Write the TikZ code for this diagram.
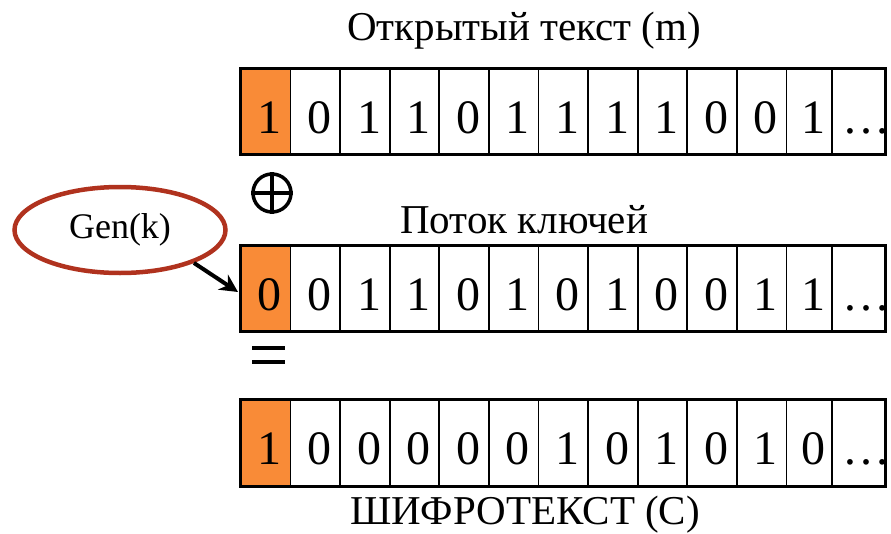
\documentclass[tikz,border=0pt]{standalone}
\usepackage{fontspec}
\setmainfont{Liberation Serif}
\usetikzlibrary{arrows.meta,shapes.geometric}
\definecolor{cellorange}{HTML}{F98B37}
\definecolor{genred}{HTML}{B0321E}
\begin{document}
\begin{tikzpicture}[x=1pt,y=-1pt,
  cellbox/.style={draw=black,line width=1.8pt,inner sep=0pt},
  digit/.style={font=\fontsize{48}{50}\selectfont,anchor=base,inner sep=0pt},
  label/.style={font=\fontsize{41}{44}\selectfont,anchor=base,inner sep=0pt},
  genellipse/.style={ellipse,draw=genred,line width=4.5pt,minimum width=211pt,minimum height=86pt,inner sep=0pt,font=\fontsize{36}{38}\selectfont},
  opsym/.style={line width=3.5pt}]
\useasboundingbox (0,0) rectangle (891,533);
% cell boundaries
\def\xs{{240,289.6,339.2,388.8,438.4,488,537.6,587.2,636.8,686.4,736,785.6,831,885}}
\def\rowA{{"1","0","1","1","0","1","1","1","1","0","0","1"}}
\def\rowB{{"0","0","1","1","0","1","0","1","0","0","1","1"}}
\def\rowC{{"1","0","0","0","0","0","1","0","1","0","1","0"}}
\foreach \r/\top/\bot/\digs in {1/68/154/\rowA,2/245/331/\rowB,3/399/486/\rowC}{
  \foreach \c in {0,...,12}{
    \pgfmathsetmacro{\xl}{\xs[\c]}
    \pgfmathsetmacro{\xr}{\xs[\c+1]}
    \ifnum\c=0
      \fill[cellorange] (\xl,\top) rectangle (\xr,\bot);
    \fi
    \node[cellbox,minimum width={\xr-\xl},minimum height={\bot-\top},anchor=north west] (r\r c\c) at (\xl,\top) {};
    \ifnum\c<12
      \pgfmathsetmacro{\d}{\digs[\c]}
      \node[digit] (t\r c\c) at ({(\xl+\xr)/2+5},{\top+65}) {\d};
    \else
      \node[digit] (t\r c\c) at (866,{\top+65}) {\ldots};
    \fi
  }
  \draw[line width=3pt] (240,\top) rectangle (885,\bot);
}
% labels
\node[label] (lm) at (524,40) {Открытый текст (m)};
\node[label] (lk) at (524,233) {Поток ключей};
\node[label] (lc) at (525,524) {ШИФРОТЕКСТ (С)};
% xor symbol
\node[circle,draw,opsym,minimum size=38pt,inner sep=0pt] (xor) at (272,193) {};
\draw[opsym] (xor.north) -- (xor.south) (xor.west) -- (xor.east);
% equals sign
\coordinate (eq) at (268,355);
\draw[line width=4pt] ([xshift=-16pt,yshift=-7pt]eq) -- ([xshift=17pt,yshift=-7pt]eq)
                      ([xshift=-16pt,yshift=7pt]eq) -- ([xshift=17pt,yshift=7pt]eq);
% generator
\node[genellipse] (gen) at (120,230) {Gen(k)};
\coordinate (tip) at (238,292);
\draw[line width=4pt,-{Stealth[length=18pt,width=18pt]}] (gen.-24) -- (tip);
\end{tikzpicture}
\end{document}
